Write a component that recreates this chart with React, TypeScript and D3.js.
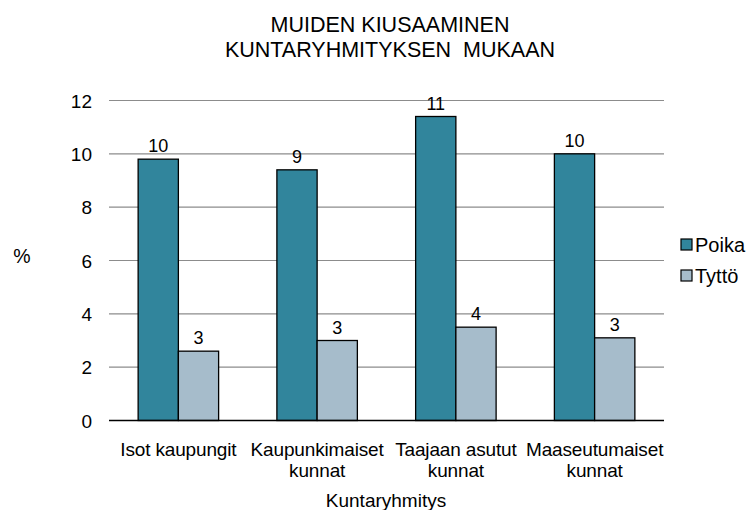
import * as d3 from 'd3';
import { useEffect, useRef } from 'react';

const colors = {
  poika: '#31859c',
  tytto: '#a6bccb',
  grid: '#8c8c8c',
};

// kuntaryhmät (rivit erikseen)
const categories = ['Isot kaupungit', 'Kaupunkimaiset kunnat', 'Taajaan asutut kunnat', 'Maaseutumaiset kunnat'];
const categoryLines = [['Isot kaupungit'], ['Kaupunkimaiset', 'kunnat'], ['Taajaan asutut', 'kunnat'], ['Maaseutumaiset', 'kunnat']];
const seriesNames = ['Poika', 'Tyttö'];
const poikaValues = [9.8, 9.4, 11.4, 10.0];
const tyttoValues = [2.6, 3.0, 3.5, 3.1];
const yTicks = [0, 2, 4, 6, 8, 10, 12];
const titleLines = ['MUIDEN KIUSAAMINEN', 'KUNTARYHMITYKSEN  MUKAAN'];

type Datum = { category: string; series: string; value: number };

export default function App() {
  const ref = useRef<SVGSVGElement | null>(null);

  useEffect(() => {
    if (!ref.current) return;
    document.body.style.margin = '0';

    const width = 754;
    const height = 510;
    const font = '"Liberation Sans", Arial, sans-serif';

    const svg = d3
      .select(ref.current)
      .attr('width', width)
      .attr('height', height)
      .style('font-family', font)
      .style('display', 'block');

    svg.selectAll('*').remove();

    const y = d3.scaleLinear().domain([0, 12]).range([420.5, 100.5]);
    const x0 = d3.scaleBand<string>().domain(categories).range([109, 664]).paddingInner(0.42).paddingOuter(0.21);
    const x1 = d3.scaleBand<string>().domain(seriesNames).range([0, x0.bandwidth()]);
    const color = d3.scaleOrdinal<string, string>().domain(seriesNames).range([colors.poika, colors.tytto]);

    // title
    svg
      .append('text')
      .attr('text-anchor', 'middle')
      .attr('font-size', 21.5)
      .attr('fill', '#000')
      .selectAll('tspan')
      .data(titleLines)
      .join('tspan')
      .attr('x', 390)
      .attr('y', (_, i) => 32 + i * 25)
      .style('white-space', 'pre')
      .text((d) => d);

    // gridlines
    svg
      .append('g')
      .selectAll('line')
      .data(yTicks.filter((t) => t > 0))
      .join('line')
      .attr('x1', 109)
      .attr('x2', 664)
      .attr('y1', (d) => y(d))
      .attr('y2', (d) => y(d))
      .attr('stroke', colors.grid)
      .attr('stroke-width', 1.2);

    // y tick labels
    svg
      .append('g')
      .selectAll('text')
      .data(yTicks)
      .join('text')
      .attr('x', 92)
      .attr('y', (d) => y(d) + 7)
      .attr('text-anchor', 'end')
      .attr('font-size', 19)
      .text((d) => d);

    svg.append('text').attr('x', 22).attr('y', 263).attr('text-anchor', 'middle').attr('font-size', 19.5).text('%');

    const data: Datum[] = categories.flatMap((c, i) => [
      { category: c, series: seriesNames[0], value: poikaValues[i] },
      { category: c, series: seriesNames[1], value: tyttoValues[i] },
    ]);

    const bars = svg.append('g');
    bars
      .selectAll('rect')
      .data(data)
      .join('rect')
      .attr('x', (d) => (x0(d.category) ?? 0) + (x1(d.series) ?? 0))
      .attr('y', (d) => y(d.value))
      .attr('width', x1.bandwidth())
      .attr('height', (d) => y(0) - y(d.value))
      .attr('fill', (d) => color(d.series))
      .attr('stroke', '#000')
      .attr('stroke-width', 1.3);

    bars
      .selectAll('text')
      .data(data)
      .join('text')
      .attr('x', (d) => (x0(d.category) ?? 0) + (x1(d.series) ?? 0) + x1.bandwidth() / 2)
      .attr('y', (d) => y(d.value) - 7)
      .attr('text-anchor', 'middle')
      .attr('font-size', 18)
      .text((d) => Math.round(d.value));

    // x axis line
    svg
      .append('line')
      .attr('x1', 109)
      .attr('x2', 664)
      .attr('y1', y(0))
      .attr('y2', y(0))
      .attr('stroke', '#000')
      .attr('stroke-width', 1.5);

    // category labels
    svg
      .append('g')
      .selectAll('text')
      .data(categories)
      .join('text')
      .attr('text-anchor', 'middle')
      .attr('font-size', 19)
      .attr('letter-spacing', -0.15)
      .selectAll('tspan')
      .data((d, i) => categoryLines[i].map((line) => ({ line, cx: (x0(d) ?? 0) + x0.bandwidth() / 2 })))
      .join('tspan')
      .attr('x', (d) => d.cx)
      .attr('y', (_, i) => 456 + i * 21)
      .text((d) => d.line);

    svg
      .append('text')
      .attr('x', 386)
      .attr('y', 506.5)
      .attr('text-anchor', 'middle')
      .attr('font-size', 19)
      .text('Kuntaryhmitys');

    // legend
    const legend = svg
      .append('g')
      .selectAll('g')
      .data(seriesNames)
      .join('g')
      .attr('transform', (_, i) => `translate(681, ${239 + i * 31})`);
    legend
      .append('rect')
      .attr('width', 11)
      .attr('height', 11)
      .attr('fill', (d) => color(d))
      .attr('stroke', '#000')
      .attr('stroke-width', 1.2);
    legend
      .append('text')
      .attr('x', 14)
      .attr('y', 12.5)
      .attr('font-size', 20)
      .text((d) => d);
  }, []);

  return <svg ref={ref} />;
}
